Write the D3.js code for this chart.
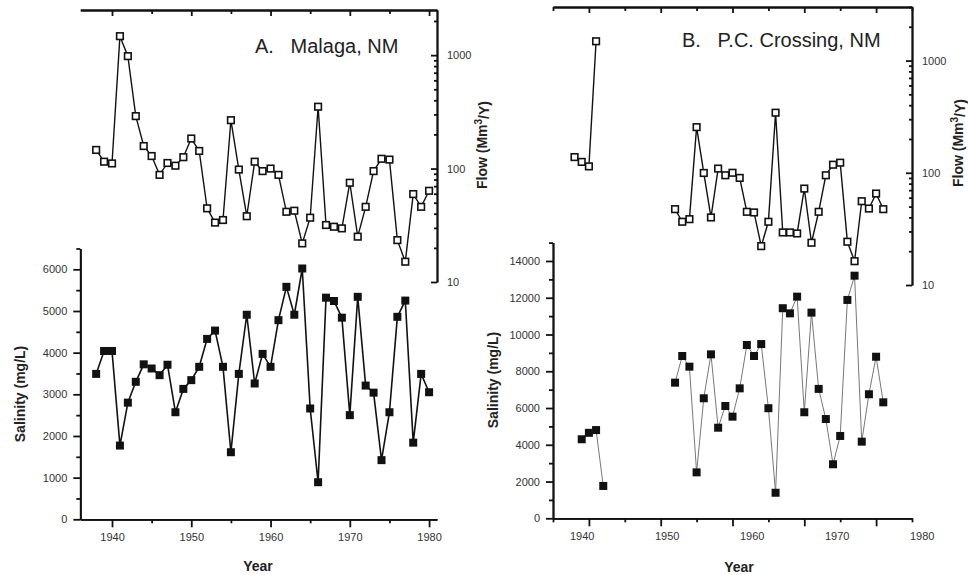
<!DOCTYPE html>
<html>
<head>
<meta charset="utf-8">
<style>
  body { margin: 0; background: #fff; }
  text { font-family: "Liberation Sans", Arial, sans-serif; }
  .axis path, .axis line { stroke: #111; stroke-width: 1.8; }
  .axis text { fill: #333; font-size: 11px; font-family: "Liberation Sans", Arial, sans-serif; }
  .title { font-size: 20px; fill: #222; }
  .label { font-size: 14px; font-weight: bold; fill: #222; }
</style>
</head>
<body>
<script src="https://cdn.jsdelivr.net/npm/d3@7"></script>
<script>
  // ---- data ----
  // A. Malaga, NM
  const yearsA = [1938, 1939, 1940, 1941, 1942, 1943, 1944, 1945, 1946, 1947, 1948, 1949,
    1950, 1951, 1952, 1953, 1954, 1955, 1956, 1957, 1958, 1959, 1960, 1961, 1962, 1963,
    1964, 1965, 1966, 1967, 1968, 1969, 1970, 1971, 1972, 1973, 1974, 1975, 1976, 1977,
    1978, 1979, 1980]
  const flowA = [146, 115, 111, 1470, 980, 290, 158, 129, 88, 112, 106, 126, 184, 143, 44.6,
    33.4, 35.2, 267, 98, 38, 115, 95, 100, 88, 41.6, 42.5, 21.9, 36.9, 351, 31.8, 30.7, 29.7,
    75, 25.1, 46, 95, 122, 120, 23.4, 15.1, 59.6, 46, 63.7]
  const salinityA = [3490, 4040, 4040, 1770, 2800, 3300, 3720, 3620, 3460, 3710, 2570, 3130,
    3340, 3660, 4330, 4530, 3660, 1610, 3490, 4910, 3260, 3970, 3660, 4780, 5580, 4910, 6020,
    2660, 890, 5320, 5240, 4840, 2500, 5340, 3210, 3040, 1420, 2570, 4860, 5250, 1840, 3490, 3050]

  // B. P.C. Crossing, NM (two records with a gap)
  const flowYearsB1 = [1938, 1939, 1940, 1941]
  const flowB1 = [138, 125, 114, 1485]
  const salYearsB1 = [1939, 1940, 1941, 1942]
  const salinityB1 = [4300, 4650, 4800, 1760]
  const yearsB2 = [1952, 1953, 1954, 1955, 1956, 1957, 1958, 1959, 1960, 1961, 1962, 1963,
    1964, 1965, 1966, 1967, 1968, 1969, 1970, 1971, 1972, 1973, 1974, 1975, 1976, 1977, 1978,
    1979, 1980, 1981]
  const flowB2 = [47.4, 36.6, 38.6, 255, 99.6, 40, 109, 95, 100, 90, 44.9, 44.3, 22.2, 36.6,
    343, 29.4, 29.4, 28.8, 72.3, 23.8, 44.9, 95, 118, 123, 24.3, 16.3, 55.8, 48, 65.3, 47.4]
  const salinityB2 = [7380, 8830, 8250, 2500, 6530, 8920, 4930, 6110, 5530, 7070, 9430, 8830,
    9480, 5990, 1390, 11430, 11150, 12060, 5770, 11190, 7040, 5400, 2940, 4480, 11880, 13200,
    4170, 6750, 8790, 6310]

  // tick values
  const yearLabels = [1940, 1950, 1960, 1970, 1980]
  const minorYearsA = [1945, 1955, 1965, 1975]
  const minorYearsB = [1935, 1945, 1955, 1965, 1975, 1985]
  const salMajorA = [0, 1000, 2000, 3000, 4000, 5000, 6000]
  const salMinorA = [500, 1500, 2500, 3500, 4500, 5500, 6500]
  const salMajorB = [0, 2000, 4000, 6000, 8000, 10000, 12000, 14000]
  const salMinorB = [1000, 3000, 5000, 7000, 9000, 11000, 13000, 15000]
  const flowMajor = [10, 100, 1000]
  const flowMinorA = [20, 30, 40, 50, 60, 70, 80, 90, 200, 300, 400, 500, 600, 700, 800, 900, 2000]
  const flowMinorB = flowMinorA.concat([3000])

  const svg = d3.select('body').append('svg')
    .attr('width', 968)
    .attr('height', 575)

  const panels = [
    {
      x: d3.scaleLinear().domain([1936, 1981]).range([80.3, 437]),
      xLabel: null,
      sal: d3.scaleLinear().domain([0, 6500]).range([519.3, 248.5]),
      flow: d3.scaleLog().domain([10, 2500]).range([282, 10]),
      minorYears: minorYearsA,
      salMajor: salMajorA, salMinor: salMinorA, flowMinor: flowMinorA,
      flowSeries: [[yearsA, flowA]],
      salSeries: [[yearsA, salinityA]],
      salStroke: '#111', salWidth: 1.6,
      title: 'A.\u00a0\u00a0\u00a0Malaga, NM', titleX: 255, titleY: 53,
      salLabel: [20, 394], flowLabel: [482, 145], yearLabel: [258, 571]
    },
    {
      x: d3.scaleLinear().domain([1935, 1985]).range([553, 912]),
      // the printed year labels of panel B sit slightly off the ticks
      xLabel: d3.scaleLinear().domain([1940, 1980]).range([581.7, 921.7]),
      sal: d3.scaleLinear().domain([0, 15000]).range([518.3, 242.6]),
      flow: d3.scaleLog().domain([10, 3000]).range([285, 7]),
      minorYears: minorYearsB,
      salMajor: salMajorB, salMinor: salMinorB, flowMinor: flowMinorB,
      flowSeries: [[flowYearsB1, flowB1], [yearsB2, flowB2]],
      salSeries: [[salYearsB1, salinityB1], [yearsB2, salinityB2]],
      salStroke: '#777', salWidth: 1,
      title: 'B.\u00a0\u00a0\u00a0P.C. Crossing, NM', titleX: 682, titleY: 47,
      salLabel: [493, 380], flowLabel: [958, 143], yearLabel: [739, 572]
    }
  ]

  panels.forEach(p => {
    const g = svg.append('g')
    const x0 = p.x.range()[0]
    const x1 = p.x.range()[1]
    const yBottom = p.sal.range()[0]
    const yTop = p.flow.range()[1]

    // bottom year axis
    g.append('g').attr('class', 'axis').attr('transform', `translate(0,${yBottom})`)
      .call(d3.axisBottom(p.x).tickValues(p.minorYears).tickSize(4).tickSizeOuter(0).tickFormat(''))
    g.append('g').attr('class', 'axis').attr('transform', `translate(0,${yBottom})`)
      .call(d3.axisBottom(p.x).tickValues(yearLabels).tickSize(8).tickSizeOuter(0).tickFormat(''))
    g.append('g').attr('class', 'axis').attr('transform', `translate(0,${yBottom})`)
      .call(d3.axisBottom(p.xLabel || p.x).tickValues(yearLabels).tickSize(0).tickPadding(14)
        .tickFormat(d3.format('d')))
      .call(a => a.select('.domain').remove())

    // top year axis (ticks pointing down)
    g.append('g').attr('class', 'axis').attr('transform', `translate(0,${yTop})`)
      .call(d3.axisBottom(p.x).tickValues(p.minorYears).tickSize(4).tickSizeOuter(0).tickFormat(''))
    g.append('g').attr('class', 'axis').attr('transform', `translate(0,${yTop})`)
      .call(d3.axisBottom(p.x).tickValues(yearLabels).tickSize(6).tickSizeOuter(0).tickFormat(''))

    // left salinity axis
    g.append('g').attr('class', 'axis').attr('transform', `translate(${x0},0)`)
      .call(d3.axisLeft(p.sal).tickValues(p.salMinor).tickSize(4).tickSizeOuter(0).tickFormat(''))
    g.append('g').attr('class', 'axis').attr('transform', `translate(${x0},0)`)
      .call(d3.axisLeft(p.sal).tickValues(p.salMajor).tickSize(7).tickSizeOuter(0).tickPadding(6)
        .tickFormat(d3.format('d')))

    // right flow axis (log, ticks pointing inward)
    g.append('g').attr('class', 'axis').attr('transform', `translate(${x1},0)`)
      .call(d3.axisRight(p.flow).tickValues(p.flowMinor).tickSize(-3).tickSizeOuter(0).tickFormat(''))
    g.append('g').attr('class', 'axis').attr('transform', `translate(${x1},0)`)
      .call(d3.axisRight(p.flow).tickValues(flowMajor).tickSize(-6).tickSizeOuter(0).tickPadding(10)
        .tickFormat(d3.format('d')))

    // flow series: open squares
    const flowLine = d3.line().x(d => p.x(d[0])).y(d => p.flow(d[1]))
    p.flowSeries.forEach(([yrs, vals]) => {
      const pts = d3.zip(yrs, vals)
      g.append('path').datum(pts).attr('d', flowLine)
        .attr('fill', 'none').attr('stroke', '#111').attr('stroke-width', 1.4)
      g.selectAll(null).data(pts).enter().append('rect')
        .attr('x', d => p.x(d[0]) - 3.3).attr('y', d => p.flow(d[1]) - 3.3)
        .attr('width', 6.6).attr('height', 6.6)
        .attr('fill', '#fff').attr('stroke', '#111').attr('stroke-width', 1.6)
    })

    // salinity series: filled squares
    const salLine = d3.line().x(d => p.x(d[0])).y(d => p.sal(d[1]))
    p.salSeries.forEach(([yrs, vals]) => {
      const pts = d3.zip(yrs, vals)
      g.append('path').datum(pts).attr('d', salLine)
        .attr('fill', 'none').attr('stroke', p.salStroke).attr('stroke-width', p.salWidth)
      g.selectAll(null).data(pts).enter().append('rect')
        .attr('x', d => p.x(d[0]) - 4).attr('y', d => p.sal(d[1]) - 4)
        .attr('width', 8).attr('height', 8)
        .attr('fill', '#111')
    })

    // titles and axis labels
    g.append('text').attr('class', 'title')
      .attr('x', p.titleX).attr('y', p.titleY).text(p.title)

    g.append('text').attr('class', 'label')
      .attr('transform', `translate(${p.salLabel[0]},${p.salLabel[1]}) rotate(-90)`)
      .attr('text-anchor', 'middle').attr('dy', '0.35em')
      .text('Salinity (mg/L)')

    const fl = g.append('text').attr('class', 'label')
      .attr('transform', `translate(${p.flowLabel[0]},${p.flowLabel[1]}) rotate(-90)`)
      .attr('text-anchor', 'middle').attr('dy', '0.35em')
    fl.append('tspan').text('Flow (Mm')
    fl.append('tspan').attr('dy', '-0.45em').attr('font-size', '10px').text('3')
    fl.append('tspan').attr('dy', '0.45em').text('/Y)')

    g.append('text').attr('class', 'label')
      .attr('x', p.yearLabel[0]).attr('y', p.yearLabel[1])
      .attr('text-anchor', 'middle').attr('font-size', '15px')
      .text('Year')
  })
</script>
</body>
</html>
